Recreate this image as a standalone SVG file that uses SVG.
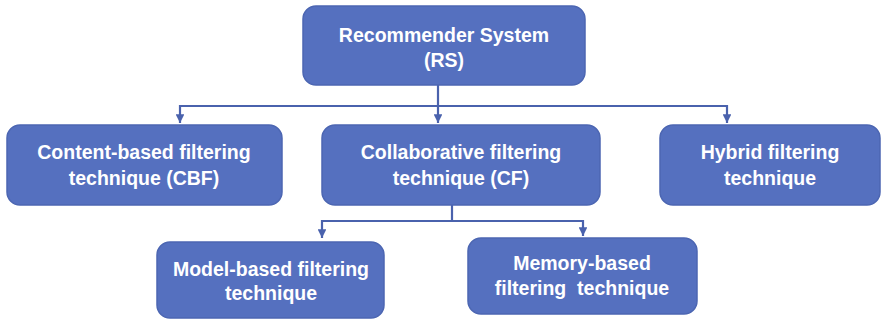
<svg xmlns="http://www.w3.org/2000/svg" width="886" height="320" viewBox="0 0 886 320">
<defs>
<style>
.box{fill:#5570bf;stroke:#4c66b2;stroke-width:1.5}
.t{font-family:"Liberation Sans",Arial,sans-serif;font-weight:bold;font-size:19.5px;fill:#ffffff;text-anchor:middle}
.c{fill:none;stroke:#4a62ad;stroke-width:2.2}
</style>
<marker id="ah" viewBox="0 0 10 10" refX="10" refY="5" markerWidth="4" markerHeight="4" markerUnits="strokeWidth" orient="auto">
<path d="M0,0 L10,5 L0,10 z" fill="#4a62ad"/>
</marker>
</defs>
<g id="connectors">
<path class="c" d="M438,85 V106"/>
<path class="c" d="M180,106 H727"/>
<path class="c" d="M180,105 V123" marker-end="url(#ah)"/>
<path class="c" d="M438,106 V123" marker-end="url(#ah)"/>
<path class="c" d="M727,105 V123" marker-end="url(#ah)"/>
<path class="c" d="M452,205 V221"/>
<path class="c" d="M322,221 H583"/>
<path class="c" d="M322,220 V238" marker-end="url(#ah)"/>
<path class="c" d="M583,220 V236" marker-end="url(#ah)"/>
</g>
<g id="rs">
<rect class="box" x="303" y="6" width="282" height="79" rx="13"/>
<text class="t" x="444" y="42">Recommender System</text>
<text class="t" x="444" y="67">(RS)</text>
</g>
<g id="cbf">
<rect class="box" x="7" y="125" width="275" height="80" rx="13"/>
<text class="t" x="144" y="159">Content-based filtering</text>
<text class="t" x="144" y="185">technique (CBF)</text>
</g>
<g id="cf">
<rect class="box" x="322" y="125" width="278" height="80" rx="13"/>
<text class="t" x="461" y="159">Collaborative filtering</text>
<text class="t" x="461" y="185">technique (CF)</text>
</g>
<g id="hybrid">
<rect class="box" x="660" y="125" width="220" height="80" rx="13"/>
<text class="t" x="770" y="159">Hybrid filtering</text>
<text class="t" x="770" y="185">technique</text>
</g>
<g id="model">
<rect class="box" x="157" y="242" width="227" height="76" rx="13"/>
<text class="t" x="271" y="276">Model-based filtering</text>
<text class="t" x="271" y="300">technique</text>
</g>
<g id="memory">
<rect class="box" x="468" y="238" width="229" height="76" rx="13"/>
<text class="t" x="582" y="270">Memory-based</text>
<text class="t" x="582" y="295" xml:space="preserve">filtering  technique</text>
</g>
</svg>
